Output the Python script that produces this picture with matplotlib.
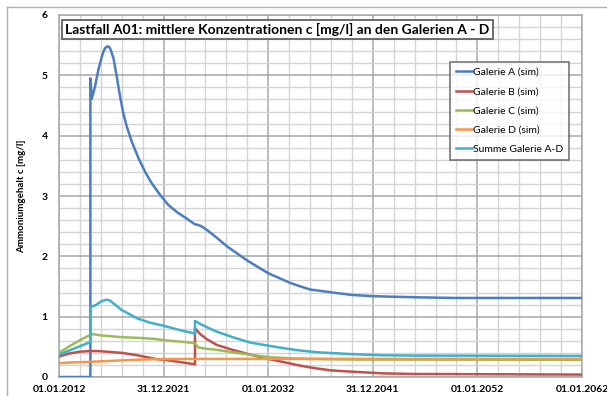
import matplotlib
matplotlib.use('Agg')
import matplotlib.pyplot as plt
from matplotlib.lines import Line2D
from matplotlib.ticker import MultipleLocator

plt.rcParams['font.family'] = ['Lato', 'DejaVu Sans']

# time in years (decimal), values in mg/l
t_a = [2012, 2015.0, 2015.0, 2015.13, 2015.44, 2015.76, 2016.09, 2016.25, 2016.4, 2016.62,
       2016.75, 2016.88, 2017.2, 2017.52, 2017.84, 2018.15, 2018.48, 2018.96, 2019.59, 2020.23,
       2020.87, 2021.66, 2022.46, 2023.3, 2024.25, 2025.0, 2025.3, 2025.6, 2026.2, 2027.0,
       2028.1, 2030.0, 2032.0, 2034.1, 2035.1, 2036.0, 2038.2, 2040.0, 2042.0, 2044.0, 2046.5,
       2050, 2062]
c_a = [0, 0, 4.95, 4.61, 4.81, 5.09, 5.31, 5.39, 5.45, 5.48,
       5.475, 5.45, 5.29, 4.98, 4.65, 4.37, 4.15, 3.90, 3.63, 3.40,
       3.21, 3.02, 2.85, 2.73, 2.62, 2.53, 2.52, 2.50, 2.43, 2.32,
       2.16, 1.93, 1.72, 1.56, 1.50, 1.45, 1.40, 1.36, 1.34, 1.33, 1.32,
       1.31, 1.31]

t_b = [2012, 2013, 2014, 2015, 2015.7, 2016.5, 2018, 2019.5, 2021.2, 2022, 2023.5, 2025, 2025,
       2025.5, 2026.2, 2027.1, 2028.6, 2030.3, 2032, 2033.4, 2035, 2036.7, 2038, 2039.8, 2043,
       2046, 2062]
c_b = [0.34, 0.39, 0.42, 0.43, 0.43, 0.42, 0.40, 0.36, 0.30, 0.285, 0.25, 0.21, 0.81,
       0.71, 0.62, 0.53, 0.45, 0.37, 0.30, 0.25, 0.19, 0.14, 0.11, 0.09, 0.06,
       0.05, 0.04]

t_c = [2012, 2013, 2014, 2015, 2015.3, 2016, 2018, 2020, 2021.2, 2022, 2024, 2025, 2025.3,
       2026, 2027.1, 2028.6, 2030.3, 2032, 2034, 2036, 2040, 2062]
c_c = [0.40, 0.51, 0.61, 0.70, 0.71, 0.69, 0.66, 0.645, 0.63, 0.61, 0.58, 0.56, 0.49,
       0.47, 0.45, 0.41, 0.37, 0.33, 0.31, 0.30, 0.29, 0.285]

t_d = [2012, 2013, 2014.8, 2016, 2018, 2020, 2021.2, 2025, 2030, 2040, 2062]
c_d = [0.23, 0.24, 0.25, 0.26, 0.275, 0.29, 0.295, 0.30, 0.30, 0.30, 0.30]

t_s = [2012, 2013, 2014, 2015, 2015, 2015.5, 2016, 2016.3, 2016.6, 2016.9, 2017.2, 2018,
       2019.5, 2020.7, 2022, 2023.5, 2025, 2025, 2025.5, 2026.2, 2027.1, 2028.6, 2030.3, 2032,
       2033.4, 2035, 2036.7, 2039.8, 2043, 2046, 2062]
c_s = [0.37, 0.44, 0.51, 0.58, 1.16, 1.19, 1.25, 1.27, 1.28, 1.265, 1.22, 1.11,
       0.97, 0.90, 0.85, 0.78, 0.72, 0.93, 0.88, 0.82, 0.75, 0.66, 0.57, 0.52,
       0.48, 0.44, 0.41, 0.38, 0.36, 0.355, 0.35]

labels = ['Galerie A (sim)', 'Galerie B (sim)', 'Galerie C (sim)', 'Galerie D (sim)',
          'Summe Galerie A-D']
colors = ['#4a7ec4', '#c0504d', '#9bbb59', '#f79646', '#3fb0cc']

tick_years = [2012, 2022, 2032, 2042, 2052, 2062]
tick_labels = ['01.01.2012', '31.12.2021', '01.01.2032', '31.12.2041', '01.01.2052', '01.01.2062']

fig = plt.figure(figsize=(6.07, 3.96), dpi=100)
ax = fig.add_axes([59/607, 19/396, 523/607, 362/396])

series = [(t_a, c_a), (t_b, c_b), (t_c, c_c), (t_d, c_d), (t_s, c_s)]
for i in [1, 2, 3, 4, 0]:
    t, c = series[i]
    ax.plot(t, c, color=colors[i], lw=1.8, zorder=3 + i)

ax.set_xlim(2012, 2062)
ax.set_ylim(0, 6)
ax.set_xticks(tick_years)
ax.set_xticklabels(tick_labels)
ax.xaxis.set_minor_locator(MultipleLocator(2))
ax.yaxis.set_major_locator(MultipleLocator(1))
ax.yaxis.set_minor_locator(MultipleLocator(0.2))
ax.grid(which='major', color='#a8a8a8', lw=1.1)
ax.grid(which='minor', color='#d4d4d4', lw=1.0)
ax.set_axisbelow(True)
ax.tick_params(which='both', length=0)
ax.tick_params(axis='x', pad=6, labelsize=7.5)
ax.tick_params(axis='y', pad=8, labelsize=7.5)
for lab in ax.get_xticklabels() + ax.get_yticklabels():
    lab.set_fontweight('bold')
for s in ax.spines.values():
    s.set_color('#a8a8a8')
    s.set_linewidth(1.1)

ax.set_ylabel('Ammoniumgehalt c [mg/l]', fontsize=7, fontweight='bold', labelpad=11)

ax.text(0.012, 0.978, 'Lastfall A01: mittlere Konzentrationen c [mg/l] an den Galerien A - D',
        transform=ax.transAxes, fontsize=10, fontweight='bold', va='top', ha='left', zorder=10,
        bbox=dict(boxstyle='square,pad=0.22', fc='white', ec='#555555', lw=1.2))

handles = [Line2D([0], [0], color=colors[i], lw=1.8) for i in range(5)]
leg = ax.legend(handles, labels, loc='upper left', bbox_to_anchor=((450-59)/523, (377-62)/362),
                fontsize=7.5, frameon=True, fancybox=False, handlelength=1.6, handletextpad=0.1,
                labelspacing=0.95, borderpad=0.55, borderaxespad=0)
leg.get_frame().set_edgecolor('#555555')
leg.get_frame().set_linewidth(1.2)
leg.set_zorder(10)

# outer chart frame (cut off on right/bottom)
fig.add_artist(Line2D([7/607, 1], [1 - 7/396, 1 - 7/396], color='#b0b0b0', lw=1.0))
fig.add_artist(Line2D([7/607, 7/607], [0, 1 - 7/396], color='#b0b0b0', lw=1.0))

fig.savefig('out.png', dpi=100)
